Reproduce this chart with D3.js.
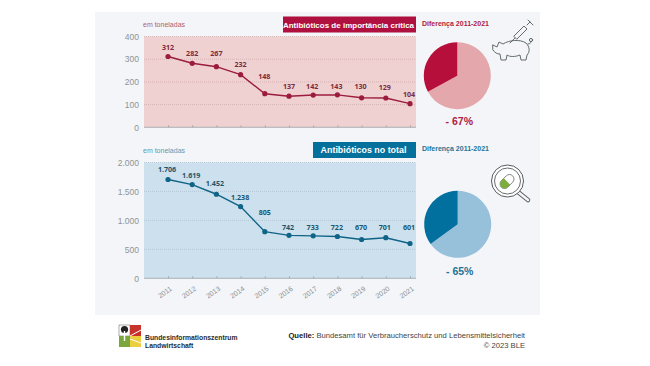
<!DOCTYPE html>
<html>
<head>
<meta charset="utf-8">
<script src="https://d3js.org/d3.v7.min.js"></script>
<style>
  html, body { margin: 0; padding: 0; background: #fff; }
  svg { display: block; }
  text { font-family: "Liberation Sans", Arial, sans-serif; }
  .lbl { font-family: "Open Sans", sans-serif; font-weight: 700; font-size: 7.1px; }
</style>
</head>
<body>
<div id="chart"></div>
<script>
const years = ["2011", "2012", "2013", "2014", "2015", "2016", "2017", "2018", "2019", "2020", "2021"];
const criticalValues = [312, 282, 267, 232, 148, 137, 142, 143, 130, 129, 104];
const totalValues = [1706, 1619, 1452, 1238, 805, 742, 733, 722, 670, 701, 601];
const criticalTicks = [0, 100, 200, 300, 400];
const totalTicks = [0, 500, 1000, 1500, 2000];
const criticalShare = [67, 33];
const totalShare = [65, 35];

const width = 650, height = 366;
const plotLeft = 144, plotRight = 416;

const svg = d3.select("#chart").append("svg")
    .attr("width", width)
    .attr("height", height);

// Grey panel behind both charts
svg.append("rect")
    .attr("x", 95).attr("y", 12)
    .attr("width", 445).attr("height", 303)
    .attr("fill", "#f3f5f8");

const x = d3.scalePoint().domain(years).range([168, 410]);
const fmt = v => d3.format(",")(v).replace(/,/g, ".");

// One line panel, used for the red and for the blue one
function linePanel(cfg) {
    const y = d3.scaleLinear()
        .domain([0, cfg.ticks[cfg.ticks.length - 1]])
        .range([cfg.bottom, cfg.top]);
    const g = svg.append("g");

    g.append("rect")
        .attr("x", plotLeft).attr("y", cfg.top)
        .attr("width", plotRight - plotLeft).attr("height", cfg.bottom - cfg.top)
        .attr("fill", cfg.bg);

    // Dotted grid lines
    g.selectAll(".grid")
        .data(cfg.ticks.slice(1))
        .enter()
        .append("line")
        .attr("x1", plotLeft).attr("x2", plotRight)
        .attr("y1", d => y(d)).attr("y2", d => y(d))
        .attr("stroke", cfg.grid)
        .attr("stroke-width", 0.7)
        .attr("stroke-dasharray", "1 1");

    // y axis: only the labels
    const yAxis = g.append("g")
        .attr("transform", `translate(${plotLeft}, 0)`)
        .call(d3.axisLeft(y).tickValues(cfg.ticks).tickFormat(fmt).tickSize(0).tickPadding(5));
    yAxis.select(".domain").remove();
    yAxis.selectAll("text")
        .attr("font-size", 8.5)
        .attr("font-family", "'Open Sans', sans-serif")
        .attr("fill", "#8f9497");

    // x axis
    const xAxis = g.append("g")
        .attr("transform", `translate(0, ${cfg.bottom})`)
        .call(d3.axisBottom(x).tickSize(-2).tickFormat(cfg.showYears ? d => d : ""));
    xAxis.select(".domain")
        .attr("d", `M${plotLeft},0H${plotRight}`)
        .attr("stroke", "#8f9aa0")
        .attr("stroke-width", 0.7);
    xAxis.selectAll("line").attr("stroke", "#8f9aa0").attr("stroke-width", 0.7);
    xAxis.selectAll("text")
        .attr("font-size", 7)
        .attr("font-family", "'Open Sans', sans-serif")
        .attr("fill", "#8a8f93")
        .attr("text-anchor", "end")
        .attr("x", 0).attr("y", 0).attr("dy", 0)
        .attr("transform", "translate(4, 11.5) rotate(-35)");

    // Series line
    const line = d3.line()
        .x((d, i) => x(years[i]))
        .y(d => y(d));
    g.append("path")
        .datum(cfg.values)
        .attr("fill", "none")
        .attr("stroke", cfg.line)
        .attr("stroke-width", 1.4)
        .attr("d", line);

    g.selectAll(".dot")
        .data(cfg.values)
        .enter()
        .append("circle")
        .attr("cx", (d, i) => x(years[i]))
        .attr("cy", d => y(d))
        .attr("r", 2.6)
        .attr("fill", cfg.line);

    // Value labels
    g.selectAll(".lbl")
        .data(cfg.values)
        .enter()
        .append("text")
        .attr("class", "lbl")
        .attr("x", (d, i) => x(years[i]) + cfg.labelDx[i])
        .attr("y", (d, i) => y(d) - cfg.labelDy[i])
        .attr("text-anchor", "middle")
        .attr("fill", cfg.labelColor)
        .text(fmt);

    // "em toneladas"
    g.append("text")
        .attr("x", cfg.unitX).attr("y", cfg.unitY)
        .attr("font-size", 7)
        .attr("fill", cfg.unitColor)
        .text("em toneladas");

    // Title box
    g.append("rect")
        .attr("x", cfg.titleX).attr("y", cfg.titleY)
        .attr("width", plotRight - cfg.titleX).attr("height", cfg.titleH)
        .attr("fill", cfg.titleBg);
    g.append("text")
        .attr("x", (cfg.titleX + plotRight) / 2 - 1).attr("y", cfg.titleY + cfg.titleH / 2 + 3)
        .attr("text-anchor", "middle")
        .attr("font-size", cfg.titleSize)
        .attr("font-weight", 700)
        .attr("fill", "#fff")
        .text(cfg.title);
}

linePanel({
    values: criticalValues, ticks: criticalTicks, top: 36.5, bottom: 127.3,
    bg: "#efd1d1", grid: "#cfa7a9", line: "#9c1c3e", labelColor: "#7c2a3e",
    labelDx: [0, 0, 0, 0, -0.5, 0, -1, -1, -1, -1, -1],
    labelDy: [6, 7, 10.4, 8, 14.4, 7, 5.7, 5.5, 8.5, 8, 6.7],
    unitX: 143, unitY: 27.3, unitColor: "#b0606f",
    titleX: 283, titleY: 16.5, titleH: 16, titleBg: "#b0103f", titleSize: 8,
    title: "Antibióticos de importância crítica", showYears: false
});

linePanel({
    values: totalValues, ticks: totalTicks, top: 162.5, bottom: 278.3,
    bg: "#cde0ed", grid: "#a9bfcb", line: "#0f6487", labelColor: "#1c566e",
    labelDx: [-1, -1, -1.5, -0.5, 0, -1, -0.5, -0.5, -0.5, -1, -1],
    labelDy: [7.5, 6.6, 8.2, 7, 16.7, 5.3, 5.9, 6.5, 9.5, 7.7, 13.5],
    unitX: 143, unitY: 152.5, unitColor: "#5b9bb3",
    titleX: 313, titleY: 142, titleH: 16, titleBg: "#04709c", titleSize: 8.9,
    title: "Antibióticos no total", showYears: true
});

// Pies: light part first, clockwise from 12 o'clock
function piePanel(cfg) {
    const pie = d3.pie().sort(null);
    const arc = d3.arc().innerRadius(0).outerRadius(33.5);
    const g = svg.append("g")
        .attr("transform", `translate(${cfg.cx}, ${cfg.cy})`);
    g.selectAll("path")
        .data(pie(cfg.share))
        .enter()
        .append("path")
        .attr("d", arc)
        .attr("fill", (d, i) => cfg.colors[i]);

    svg.append("text")
        .attr("x", 422).attr("y", cfg.headY)
        .attr("font-size", 7)
        .attr("font-weight", 700)
        .attr("fill", cfg.headColor)
        .text("Diferença 2011-2021");

    svg.append("text")
        .attr("x", cfg.cx + 2).attr("y", cfg.pctY)
        .attr("text-anchor", "middle")
        .attr("font-size", 10.5)
        .attr("font-family", "'Open Sans', sans-serif")
        .attr("font-weight", 600)
        .attr("fill", cfg.headColor)
        .text(cfg.pct);
}

piePanel({ share: criticalShare, colors: ["#e3a7ac", "#b70f3c"], cx: 457.3, cy: 75.7, headY: 26, headColor: "#b0233f", pctY: 125, pct: "- 67%" });
piePanel({ share: totalShare, colors: ["#97c0da", "#02709f"], cx: 457.7, cy: 224.3, headY: 151, headColor: "#1f7396", pctY: 274.5, pct: "- 65%" });

// Pig with syringe icon
const pig = svg.append("g")
    .attr("fill", "none")
    .attr("stroke", "#555c5c")
    .attr("stroke-width", 0.9)
    .attr("stroke-linejoin", "round")
    .attr("stroke-linecap", "round");
pig.append("path")
    .attr("d", "M493,45 L497,47 L499,42 L503,44 C509,40 520,39 526,43 C530,47 530,52 527,55 L526,60 L521,60 L520,55 C515,57 510,57 507,55 L506,60 L501,60 L500,54 C497,54 495,53 493,50 Z");
pig.append("path").attr("d", "M514,36 L524,26 L527,29 L517,39 Z");
pig.append("path").attr("d", "M527,25 L530,22 M528,20 L533,25 M515,38 L510,43");
pig.append("circle").attr("cx", 531).attr("cy", 40).attr("r", 1.6);
pig.append("path").attr("d", "M528,44 C530,44 531,43 531,41.5");

// Magnifier with capsule icon
const lens = svg.append("g").attr("fill", "none").attr("stroke", "#555b5e");
lens.append("line").attr("x1", 518).attr("y1", 192).attr("x2", 528).attr("y2", 200)
    .attr("stroke-width", 4.5).attr("stroke-linecap", "round");
lens.append("line").attr("x1", 518).attr("y1", 192).attr("x2", 528).attr("y2", 200)
    .attr("stroke", "#f3f5f8").attr("stroke-width", 2.8).attr("stroke-linecap", "round");
lens.append("circle").attr("cx", 507.5).attr("cy", 181).attr("r", 16).attr("stroke-width", 1).attr("fill", "#fff");
lens.append("circle").attr("cx", 507.5).attr("cy", 181).attr("r", 13).attr("stroke-width", 0.9);
const capsule = lens.append("g").attr("transform", "translate(507, 181.5) rotate(-45)");
capsule.append("rect")
    .attr("x", -8).attr("y", -4.5).attr("width", 16).attr("height", 9).attr("rx", 4.5)
    .attr("fill", "#fff").attr("stroke-width", 0.7);
capsule.append("path")
    .attr("d", "M0,-4.5 H-3.5 A4.5,4.5 0 0 0 -3.5,4.5 H0 Z")
    .attr("fill", "#7cad3e").attr("stroke", "none");

// BLE logo
const logo = svg.append("g");
logo.append("rect").attr("x", 119).attr("y", 325).attr("width", 11).attr("height", 11).attr("fill", "#fff").attr("stroke", "#333").attr("stroke-width", 0.4);
logo.append("rect").attr("x", 119).attr("y", 336).attr("width", 11).attr("height", 11).attr("fill", "#7ba63c");
logo.append("rect").attr("x", 130).attr("y", 325).attr("width", 11).attr("height", 11).attr("fill", "#c8322d");
logo.append("rect").attr("x", 130).attr("y", 336).attr("width", 11).attr("height", 11).attr("fill", "#eccf3f");
logo.append("circle").attr("cx", 124.5).attr("cy", 329.5).attr("r", 3.6).attr("fill", "#222");
logo.append("rect").attr("x", 123.8).attr("y", 331).attr("width", 1.4).attr("height", 10).attr("fill", "#fff");
logo.append("path").attr("d", "M130,336 L141,330 M130,339 L141,343").attr("stroke", "#fff").attr("stroke-width", 1);

svg.append("text")
    .attr("x", 145).attr("y", 339.5)
    .attr("font-family", "'Open Sans', sans-serif")
    .attr("font-size", 6.8).attr("font-weight", 700).attr("fill", "#2b2b2b")
    .text("Bundesinformationszentrum");
svg.append("text")
    .attr("x", 145).attr("y", 347.5)
    .attr("font-family", "'Open Sans', sans-serif")
    .attr("font-size", 6.8).attr("font-weight", 700).attr("fill", "#2b2b2b")
    .text("Landwirtschaft");

// Source
const source = svg.append("text")
    .attr("x", 525).attr("y", 337.5)
    .attr("text-anchor", "end")
    .attr("font-family", "Lato, sans-serif")
    .attr("font-size", 7.65)
    .attr("fill", "#444");
source.append("tspan").attr("font-weight", 700).attr("fill", "#222").text("Quelle: ");
source.append("tspan").text("Bundesamt für Verbraucherschutz und Lebensmittelsicherheit");
svg.append("text")
    .attr("x", 525).attr("y", 348)
    .attr("text-anchor", "end")
    .attr("font-family", "Lato, sans-serif")
    .attr("font-size", 7.65)
    .attr("fill", "#444")
    .text("© 2023 BLE");
</script>
</body>
</html>
